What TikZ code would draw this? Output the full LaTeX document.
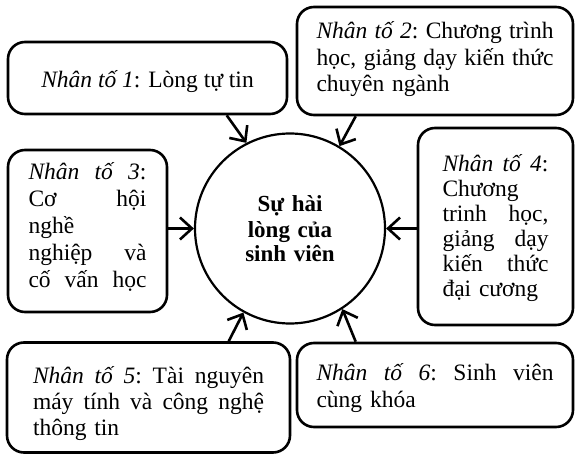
\documentclass[tikz,border=0pt]{standalone}
\usepackage{fontspec}
\setmainfont{Liberation Serif}
\usetikzlibrary{arrows.meta}
% width of the current text block, set by the "lines" style
\newlength\jw
% a line stretched to the full width of the text block (equal word gaps)
\newcommand\jline[1]{\makebox[\jw][s]{\spaceskip=.25em plus 1fil\xspaceskip=\spaceskip #1}}
\begin{document}
\begin{tikzpicture}[x=1pt,y=-1pt,
  box/.style={draw, line width=2.6pt, rounded corners=17pt, inner sep=0pt,
              align=left, font=\fontsize{23.5}{#1}\selectfont},
  box/.default=26.5,
  lines/.style={text width=#1, jw=#1},
  jw/.code={\global\jw=#1\relax},
  hub/.style={draw, circle, line width=2.2pt, minimum size=190pt, inner sep=0pt,
              align=center, text width=130pt,
              font=\bfseries\fontsize{23}{25}\selectfont},
  arr/.style={line width=2.6pt, -{Straight Barb[length=12pt,width=22pt]}},
]
\useasboundingbox (0,0) rectangle (575,454);

% central circle
\node[hub, text height=23pt, text depth=56pt] (c) at (290,228.5)
  {Sự hài\\lòng của\\sinh viên};

% the six factors
\node[box, minimum width=279pt, minimum height=72pt,
      text height=26pt, text depth=6pt] (b1) at (147.5,78)
  {\textit{Nhân tố 1}: Lòng tự tin};
\node[box, lines=237pt, minimum width=276pt, minimum height=108pt,
      text height=15pt, text depth=59pt] (b2) at (435,61)
  {\jline{\textit{Nhân tố 2}: Chương trình}\\
   \jline{học, giảng dạy kiến thức}\\
   chuyên ngành};
\node[box=27, lines=118pt, minimum width=159pt, minimum height=162pt,
      text height=12pt, text depth=114pt] (b3) at (87.5,231)
  {\jline{\textit{Nhân tố 3}:}\\
   \jline{Cơ hội}\\
   nghề\\
   \jline{nghiệp và}\\
   \jline{cố vấn học}};
\node[box=25, lines=106pt, minimum width=155pt, minimum height=197pt,
      text height=22pt, text depth=131pt] (b4) at (495.5,226.5)
  {\jline{\textit{Nhân tố 4}:}\\
   Chương\\
   \jline{trinh học,}\\
   \jline{giảng dạy}\\
   \jline{kiến thức}\\
   đại cương};
\node[box=26, lines=231pt, minimum width=283pt, minimum height=110pt,
      text height=29pt, text depth=58pt] (b5) at (148.5,397.5)
  {\jline{\textit{Nhân tố 5}: Tài nguyên}\\
   \jline{máy tính và công nghệ}\\
   thông tin};
\node[box=27, lines=237pt, minimum width=276pt, minimum height=84pt,
      text height=23pt, text depth=33pt] (b6) at (435,385)
  {\jline{\textit{Nhân tố 6}: Sinh viên}\\
   cùng khóa};

% arrow start points on the box edges
\path (b1.south west) ++(220,0) coordinate (s1);
\path (b2.south west) ++(60,0) coordinate (s2);
\path (b5.north west) ++(223,0) coordinate (s5);
\path (b6.north west) ++(60,0) coordinate (s6);

% arrows into the circle
\draw[arr] (s1) -- (c.117.6);
\draw[arr] (s2) -- (c.59.8);
\draw[arr] (b3.east |- c.center) -- (c);
\draw[arr] (b4.west |- c.center) -- (c);
\draw[arr] (s5) -- (c.241);
\draw[arr] (s6) -- (c.303);
\end{tikzpicture}
\end{document}
